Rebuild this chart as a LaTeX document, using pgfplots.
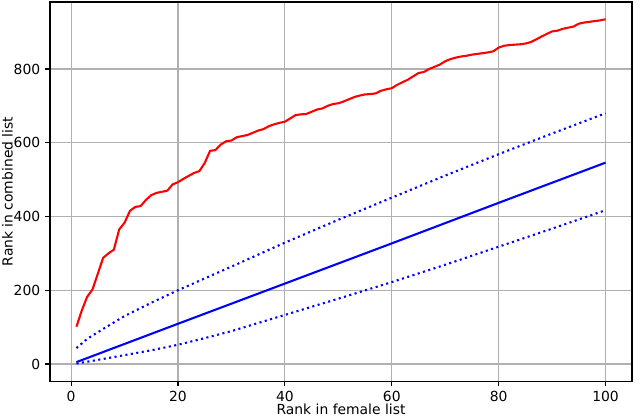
\documentclass[border=0pt]{standalone}
\usepackage{fontspec}
\setmainfont{DejaVu Sans}
\usepackage{pgfplots}
\pgfplotsset{compat=1.18}

\definecolor{gridgrey}{HTML}{B0B0B0}

\begin{document}
\begin{tikzpicture}
\begin{axis}[
    name=main,
    scale only axis,
    width=419pt, height=273pt,
    xmin=-3.95, xmax=104.95,
    ymin=-46.75, ymax=981.75,
    xtick={0,20,40,60,80,100},
    ytick={0,200,400,600,800},
    xlabel={Rank in female list},
    ylabel={Rank in combined list},
    label style={font=\fontsize{10}{12}\selectfont},
    tick label style={font=\fontsize{10}{12}\selectfont},
    /pgf/number format/assume math mode=true,
    grid=major,
    major grid style={gridgrey, line width=0.8pt},
    axis line style={line width=0.8pt},
    tick align=outside,
    tick pos=left,
    major tick length=3.5pt,
    every tick/.style={black, line width=0.8pt},
    xlabel style={yshift=5pt},
    ylabel style={yshift=-6.3pt},
]
% observed ranks
\addplot[red, line width=1.5pt] coordinates {
(1,101) (2,145) (3,182) (4,202) (5,245) (6,288) (7,300) (8,310) (9,365) (10,383)
(11,415) (12,426) (13,428) (14,445) (15,458) (16,464) (17,467) (18,470) (19,487) (20,493)
(21,502) (22,510) (23,518) (24,523) (25,545) (26,578) (27,580) (28,595) (29,604) (30,606)
(31,615) (32,618) (33,621) (34,627) (35,633) (36,637) (37,645) (38,650) (39,654) (40,657)
(41,666) (42,675) (43,677) (44,678) (45,684) (46,690) (47,693) (48,700) (49,705) (50,707)
(51,712) (52,718) (53,724) (54,728) (55,731) (56,732) (57,734) (58,741) (59,745) (60,748)
(61,757) (62,764) (63,771) (64,780) (65,789) (66,792) (67,800) (68,806) (69,812) (70,821)
(71,827) (72,831) (73,834) (74,836) (75,839) (76,841) (77,843) (78,845) (79,848) (80,858)
(81,863) (82,865) (83,866) (84,867) (85,869) (86,873) (87,880) (88,888) (89,895) (90,902)
(91,904) (92,909) (93,912) (94,915) (95,923) (96,926) (97,928) (98,930) (99,932) (100,935)
};
% expected rank
\addplot[blue, line width=1.5pt] coordinates {
(1,5) (20,109) (40,218) (60,327) (80,437) (100,546)
};
% upper band
\addplot[blue, line width=1.5pt, dash pattern=on 1.5pt off 2.475pt] coordinates {
(1,43) (3,68) (6,95) (10,130) (15,166) (20,200) (25,232) (30,264) (40,329)
(50,391) (60,451) (70,511) (80,569) (90,625) (100,680)
};
% lower band
\addplot[blue, line width=1.5pt, dash pattern=on 1.5pt off 2.475pt] coordinates {
(1,1) (5,11) (10,24) (15,37) (20,52) (25,70) (30,89) (40,133)
(50,177) (60,222) (70,269) (80,318) (90,367) (100,417)
};
\end{axis}
\pgfresetboundingbox
\path ([shift={(-36pt,-25.2pt)}]main.south west) rectangle ([shift={(5.76pt,1.44pt)}]main.north east);
\end{tikzpicture}
\end{document}
